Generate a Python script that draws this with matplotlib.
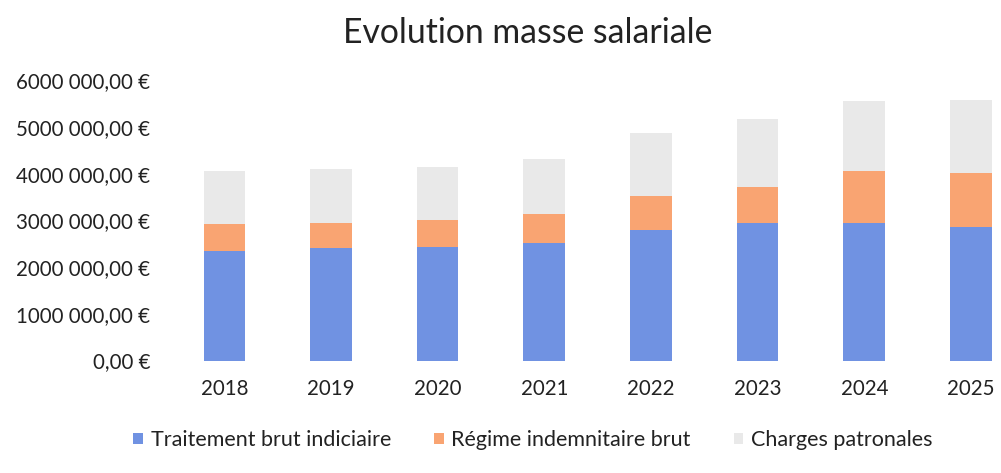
import numpy as np
import matplotlib.pyplot as plt
from matplotlib.ticker import FuncFormatter

years      = ["2018", "2019", "2020", "2021", "2022", "2023", "2024", "2025"]
traitement = [2350000, 2400000, 2430000, 2520000, 2800000, 2940000, 2940000, 2850000]
regime     = [570000, 550000, 570000, 610000, 730000, 770000, 1120000, 1170000]
charges    = [1130000, 1150000, 1140000, 1180000, 1340000, 1470000, 1500000, 1560000]
series_names = ["Traitement brut indiciaire", "Régime indemnitaire brut", "Charges patronales"]

COLORS = ["#7092E2", "#F9A472", "#E9E9E9"]
FONT = "Lato"

plt.rcParams["font.family"] = [FONT, "DejaVu Sans"]

fig = plt.figure(figsize=(10.01, 4.73), dpi=100)
ax = fig.add_axes([171 / 1001, (473 - 360.5) / 473, 830 / 1001, 280 / 473])

x = np.arange(len(years))
w = 0.39
bottom = np.zeros(len(years))
for vals, col, name in zip([traitement, regime, charges], COLORS, series_names):
    ax.bar(x, vals, w, bottom=bottom, color=col, label=name, linewidth=0)
    bottom += np.array(vals)

ax.set_xlim(-0.5, (1001 - 224) / 106.7)
ax.set_ylim(0, 6000000)
ax.set_yticks(np.arange(0, 6000001, 1000000))


def euro(v, pos):
    s = f"{v:,.2f}".replace(",", " ").replace(".", ",")
    # Excel style: no separator in the millions group
    if v >= 1000000:
        s = s.replace(" ", "", 1)
    return s + " €"


ax.yaxis.set_major_formatter(FuncFormatter(euro))
ax.set_xticks(x)
ax.set_xticklabels(years)
ax.tick_params(axis="both", length=0, labelsize=14.8, colors="#222222")
ax.tick_params(axis="y", pad=15)
ax.tick_params(axis="x", pad=13)
for s in ax.spines.values():
    s.set_visible(False)

fig.text(528 / 1001, 1 - 33 / 473, "Evolution masse salariale", ha="center", va="center",
         fontsize=24.3, color="#222222")

fig.legend(loc="center", bbox_to_anchor=(533 / 1001, 1 - 440 / 473), ncol=3, frameon=False,
           fontsize=15.5, handlelength=0.45, handleheight=0.45, columnspacing=2.0,
           handletextpad=0.35, labelcolor="#222222")

plt.savefig("out.png", dpi=100)
plt.close()
